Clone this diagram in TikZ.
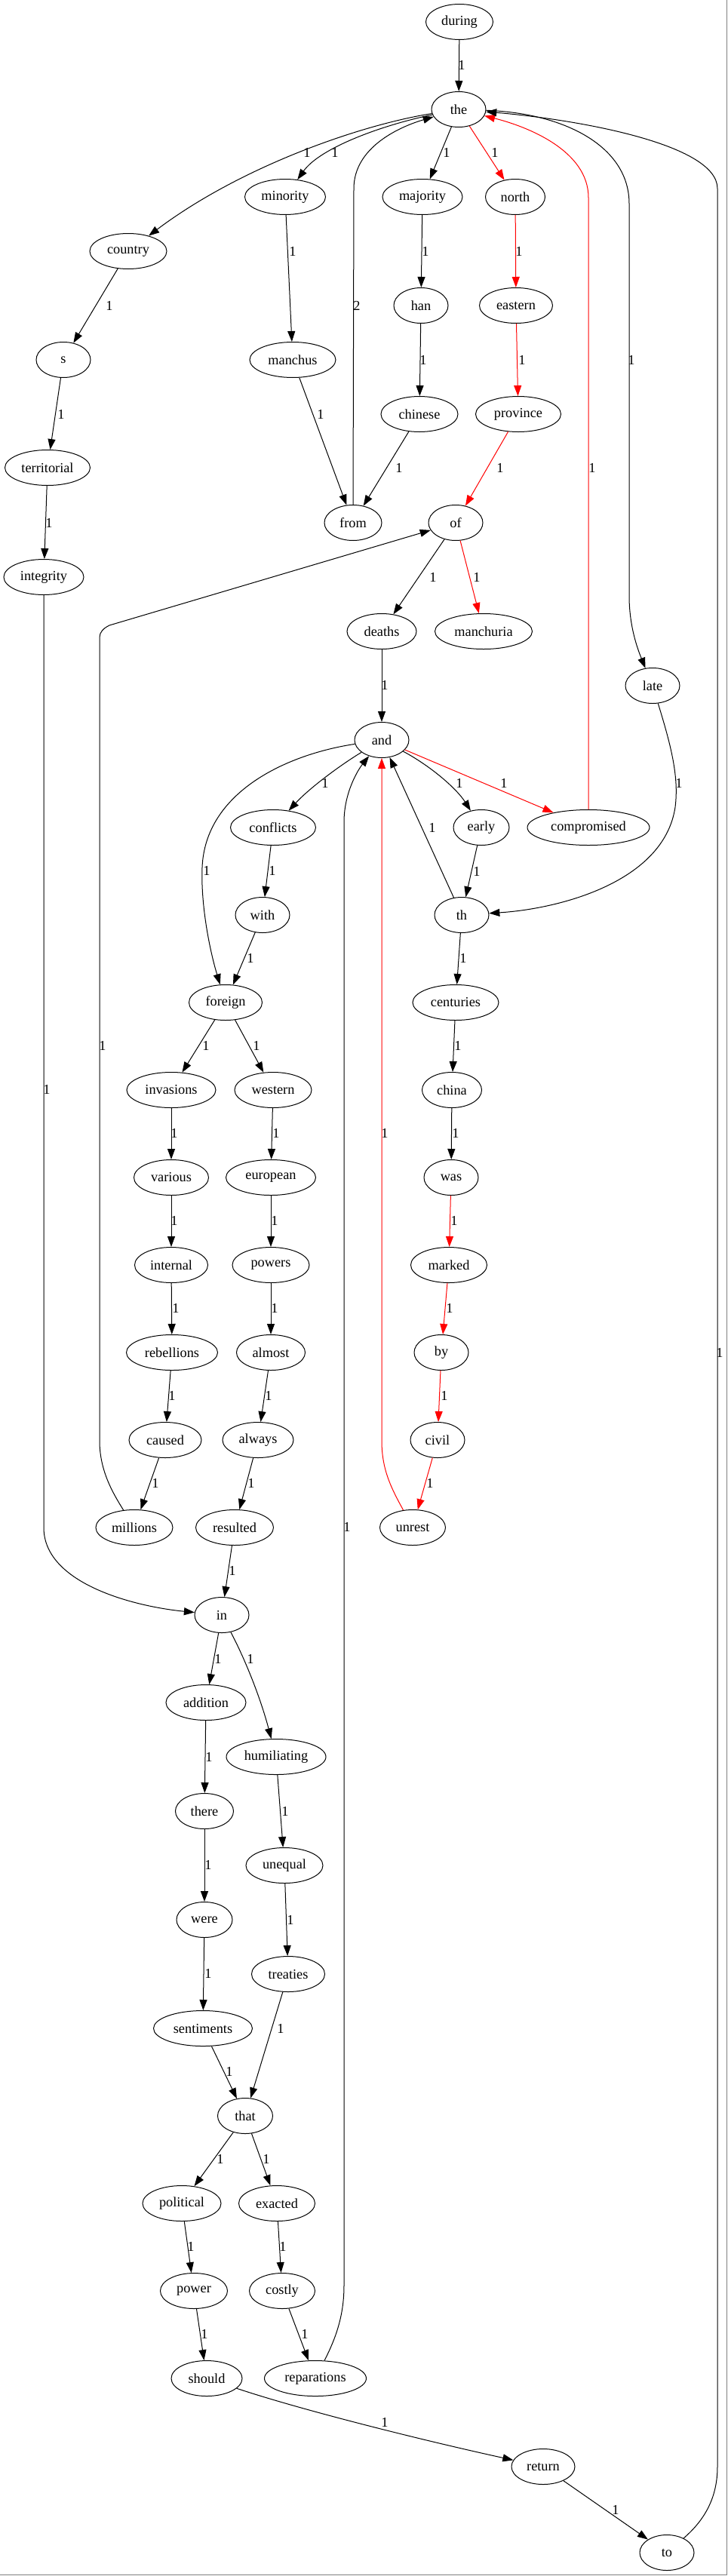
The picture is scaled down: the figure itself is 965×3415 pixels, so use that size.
\documentclass[tikz,border=0pt]{standalone}
\usepackage{fontspec}
\setmainfont{Liberation Serif}
\usetikzlibrary{shapes.geometric,arrows.meta}
\tikzset{
  wnode/.style={draw, ellipse, inner sep=0pt, minimum height=47pt, line width=1pt, font=\fontsize{18.3}{20}\selectfont},
  lbl/.style={inner sep=0pt, font=\fontsize{18.3}{20}\selectfont},
  edg/.style={draw, line width=1pt, -{Triangle[length=14pt,width=10pt]}},
  redg/.style={edg, color=red},
}
\begin{document}
\begin{tikzpicture}[x=1pt, y=-1pt]
\useasboundingbox (0,0) rectangle (965,3415);
\fill[white] (0,0) rectangle (965,3415);
\draw[color={rgb,255:red,128;green,128;blue,128}, line width=1.5pt] (963.5,0) -- (963.5,3413.5) -- (0,3413.5);

% nodes
\node[wnode, minimum width=89pt]  (wduring) at (609,29) {during};
\node[wnode, minimum width=72pt]  (wthe) at (608,145) {the};
\node[wnode, minimum width=107pt] (wminority) at (378,261) {minority};
\node[wnode, minimum width=106pt] (wmajority) at (560,261) {majority};
\node[wnode, minimum width=79pt]  (wnorth) at (683,261) {north};
\node[wnode, minimum width=102pt] (wcountry) at (170,333) {country};
\node[wnode, minimum width=72pt]  (whan) at (558,405) {han};
\node[wnode, minimum width=97pt]  (weastern) at (684,405) {eastern};
\node[wnode, minimum width=72pt]  (ws) at (84,477) {s};
\node[wnode, minimum width=114pt] (wmanchus) at (388,477) {manchus};
\node[wnode, minimum width=102pt] (wchinese) at (556,549) {chinese};
\node[wnode, minimum width=113pt] (wprovince) at (687,549) {province};
\node[wnode, minimum width=113pt] (wterritorial) at (63,620) {territorial};
\node[wnode, minimum width=76pt]  (wfrom) at (468,693) {from};
\node[wnode, minimum width=72pt]  (wof) at (604,693) {of};
\node[wnode, minimum width=106pt] (wintegrity) at (58,765) {integrity};
\node[wnode, minimum width=92pt]  (wdeaths) at (506,837) {deaths};
\node[wnode, minimum width=129pt] (wmanchuria) at (641,837) {manchuria};
\node[wnode, minimum width=72pt]  (wlate) at (865,909) {late};
\node[wnode, minimum width=72pt]  (wand) at (506,981) {and};
\node[wnode, minimum width=113pt] (wconflicts) at (362,1097) {conflicts};
\node[wnode, minimum width=74pt]  (wearly) at (638,1097) {early};
\node[wnode, minimum width=162pt] (wcompromised) at (780,1097) {compromised};
\node[wnode, minimum width=72pt]  (wwith) at (348,1213) {with};
\node[wnode, minimum width=72pt]  (wth) at (612,1213) {th};
\node[wnode, minimum width=97pt]  (wforeign) at (299,1329) {foreign};
\node[wnode, minimum width=114pt] (wcenturies) at (604,1329) {centuries};
\node[wnode, minimum width=118pt] (winvasions) at (227,1445) {invasions};
\node[wnode, minimum width=102pt] (wwestern) at (362,1445) {western};
\node[wnode, minimum width=79pt]  (wchina) at (599,1445) {china};
\node[wnode, minimum width=99pt]  (wvarious) at (227,1561) {various};
\node[wnode, minimum width=119pt] (weuropean) at (359,1561) {european};
\node[wnode, minimum width=72pt]  (wwas) at (598,1561) {was};
\node[wnode, minimum width=97pt]  (winternal) at (227,1677) {internal};
\node[wnode, minimum width=102pt] (wpowers) at (359,1677) {powers};
\node[wnode, minimum width=101pt] (wmarked) at (595,1677) {marked};
\node[wnode, minimum width=121pt] (wrebellions) at (228,1793) {rebellions};
\node[wnode, minimum width=91pt]  (walmost) at (359,1793) {almost};
\node[wnode, minimum width=72pt]  (wby) at (585,1793) {by};
\node[wnode, minimum width=96pt]  (wcaused) at (219,1909) {caused};
\node[wnode, minimum width=94pt]  (walways) at (342,1909) {always};
\node[wnode, minimum width=72pt]  (wcivil) at (580,1909) {civil};
\node[wnode, minimum width=102pt] (wmillions) at (178,2025) {millions};
\node[wnode, minimum width=103pt] (wresulted) at (311,2025) {resulted};
\node[wnode, minimum width=87pt]  (wunrest) at (547,2025) {unrest};
\node[wnode, minimum width=72pt]  (win) at (294,2141) {in};
\node[wnode, minimum width=106pt] (waddition) at (273,2257) {addition};
\node[wnode, minimum width=132pt] (whumiliating) at (366,2329) {humiliating};
\node[wnode, minimum width=77pt]  (wthere) at (271,2401) {there};
\node[wnode, minimum width=102pt] (wunequal) at (377,2473) {unequal};
\node[wnode, minimum width=74pt]  (wwere) at (271,2545) {were};
\node[wnode, minimum width=97pt]  (wtreaties) at (382,2617) {treaties};
\node[wnode, minimum width=131pt] (wsentiments) at (269,2689) {sentiments};
\node[wnode, minimum width=73pt]  (wthat) at (325,2805) {that};
\node[wnode, minimum width=104pt] (wpolitical) at (241,2921) {political};
\node[wnode, minimum width=101pt] (wexacted) at (367,2921) {exacted};
\node[wnode, minimum width=89pt]  (wpower) at (257,3037) {power};
\node[wnode, minimum width=87pt]  (wcostly) at (374,3037) {costly};
\node[wnode, minimum width=94pt]  (wshould) at (274,3153) {should};
\node[wnode, minimum width=135pt] (wreparations) at (418,3153) {reparations};
\node[wnode, minimum width=84pt]  (wreturn) at (720,3270) {return};
\node[wnode, minimum width=72pt]  (wto) at (884,3384) {to};

% edges
\draw[edg] (wduring) -- (wthe);
\draw[edg] (wthe) .. controls (480,165) and (320,220) .. (wcountry);
\draw[edg] (wthe) .. controls (510,165) and (425,195) .. (wminority);
\draw[edg] (wthe) -- (wmajority);
\draw[redg] (wthe) -- (wnorth);
\draw[edg] (wfrom.north) -- (469,250) .. controls (469,195) and (530,168) .. (wthe);
\draw[redg] (wcompromised.north) -- (780,262) .. controls (780,200) and (700,168) .. (wthe);
\draw[edg] (wthe) .. controls (750,150) and (834,195) .. (834,270) -- (834,790) .. controls (834,830) and (845,860) .. (wlate);
\draw[edg] (wto) .. controls (935,3340) and (951,3310) .. (951,3270) -- (951,250) .. controls (951,190) and (760,158) .. (wthe);
\draw[edg] (wminority) -- (wmanchus);
\draw[edg] (wmajority) -- (whan);
\draw[redg] (wnorth) -- (weastern);
\draw[edg] (wcountry) -- (ws);
\draw[edg] (whan) -- (wchinese);
\draw[redg] (weastern) -- (wprovince);
\draw[edg] (ws) -- (wterritorial);
\draw[edg] (wmanchus) -- (wfrom);
\draw[edg] (wchinese) -- (wfrom);
\draw[redg] (wprovince) -- (wof);
\draw[edg] (wterritorial) -- (wintegrity);
\draw[edg] (wmillions) .. controls (150,1980) and (132,1950) .. (132,1910) -- (132,845) .. controls (132,838) and (137,833) .. (145,829) -- (wof);
\draw[edg] (wof) -- (wdeaths);
\draw[redg] (wof) -- (wmanchuria);
\draw[edg] (wdeaths) -- (wand);
\draw[edg] (wintegrity) -- (58,2025) .. controls (58,2100) and (180,2130) .. (win);
\draw[edg] (wand) .. controls (450,1015) and (410,1045) .. (wconflicts);
\draw[edg] (wand) .. controls (380,1000) and (272,1050) .. (268,1150) .. controls (266,1200) and (278,1260) .. (wforeign);
\draw[edg] (wreparations) .. controls (445,3100) and (456,3070) .. (456,3030) -- (456,1090) .. controls (456,1050) and (475,1020) .. (wand);
\draw[redg] (wunrest) .. controls (520,1975) and (506,1950) .. (506,1910) -- (wand);
\draw[edg] (wth) -- (wand);
\draw[edg] (wand) .. controls (570,1015) and (605,1045) .. (wearly);
\draw[redg] (wand) -- (wcompromised);
\draw[edg] (wlate) .. controls (890,990) and (900,1030) .. (895,1070) .. controls (880,1170) and (740,1205) .. (wth);
\draw[edg] (wconflicts) -- (wwith);
\draw[edg] (wearly) -- (wth);
\draw[edg] (wwith) -- (wforeign);
\draw[edg] (wth) -- (wcenturies);
\draw[edg] (wforeign) -- (winvasions);
\draw[edg] (wforeign) -- (wwestern);
\draw[edg] (wcenturies) -- (wchina);
\draw[edg] (winvasions) -- (wvarious);
\draw[edg] (wwestern) -- (weuropean);
\draw[edg] (wchina) -- (wwas);
\draw[edg] (wvarious) -- (winternal);
\draw[edg] (weuropean) -- (wpowers);
\draw[redg] (wwas) -- (wmarked);
\draw[edg] (winternal) -- (wrebellions);
\draw[edg] (wpowers) -- (walmost);
\draw[redg] (wmarked) -- (wby);
\draw[edg] (wrebellions) -- (wcaused);
\draw[edg] (walmost) -- (walways);
\draw[redg] (wby) -- (wcivil);
\draw[edg] (wcaused) -- (wmillions);
\draw[edg] (walways) -- (wresulted);
\draw[redg] (wcivil) -- (wunrest);
\draw[edg] (wresulted) -- (win);
\draw[edg] (win) -- (waddition);
\draw[edg] (win) .. controls (325,2200) and (345,2250) .. (whumiliating);
\draw[edg] (waddition) -- (wthere);
\draw[edg] (whumiliating) -- (wunequal);
\draw[edg] (wthere) -- (wwere);
\draw[edg] (wunequal) -- (wtreaties);
\draw[edg] (wwere) -- (wsentiments);
\draw[edg] (wtreaties) -- (wthat);
\draw[edg] (wsentiments) -- (wthat);
\draw[edg] (wthat) -- (wpolitical);
\draw[edg] (wthat) -- (wexacted);
\draw[edg] (wpolitical) -- (wpower);
\draw[edg] (wexacted) -- (wcostly);
\draw[edg] (wpower) -- (wshould);
\draw[edg] (wcostly) -- (wreparations);
\draw[edg] (wshould) .. controls (400,3195) and (560,3235) .. (wreturn);
\draw[edg] (wreturn) -- (wto);

% labels
\node[lbl] (l01) at (612,86) {1};
\node[lbl] (l02) at (407,202) {1};
\node[lbl] (l03) at (444,202) {1};
\node[lbl] (l04) at (592,202) {1};
\node[lbl] (l05) at (656,202) {1};
\node[lbl] (l06) at (473,405) {2};
\node[lbl] (l07) at (785,620) {1};
\node[lbl] (l08) at (837,477) {1};
\node[lbl] (l09) at (954,1793) {1};
\node[lbl] (l10) at (388,333) {1};
\node[lbl] (l11) at (564,333) {1};
\node[lbl] (l12) at (688,333) {1};
\node[lbl] (l13) at (145,405) {1};
\node[lbl] (l14) at (561,477) {1};
\node[lbl] (l15) at (692,477) {1};
\node[lbl] (l16) at (81,549) {1};
\node[lbl] (l17) at (425,549) {1};
\node[lbl] (l18) at (529,620) {1};
\node[lbl] (l19) at (663,620) {1};
\node[lbl] (l20) at (65,693) {1};
\node[lbl] (l21) at (136,1386) {1};
\node[lbl] (l22) at (574,765) {1};
\node[lbl] (l23) at (632,765) {1};
\node[lbl] (l24) at (510,908) {1};
\node[lbl] (l25) at (62,1444) {1};
\node[lbl] (l26) at (431,1038) {1};
\node[lbl] (l27) at (274,1154) {1};
\node[lbl] (l28) at (460,2024) {1};
\node[lbl] (l29) at (510,1502) {1};
\node[lbl] (l30) at (573,1097) {1};
\node[lbl] (l31) at (609,1038) {1};
\node[lbl] (l32) at (668,1038) {1};
\node[lbl] (l33) at (900,1038) {1};
\node[lbl] (l34) at (361,1154) {1};
\node[lbl] (l35) at (632,1155) {1};
\node[lbl] (l36) at (332,1270) {1};
\node[lbl] (l37) at (614,1270) {1};
\node[lbl] (l38) at (273,1386) {1};
\node[lbl] (l39) at (340,1386) {1};
\node[lbl] (l40) at (607,1386) {1};
\node[lbl] (l41) at (231,1502) {1};
\node[lbl] (l42) at (366,1502) {1};
\node[lbl] (l43) at (604,1502) {1};
\node[lbl] (l44) at (231,1618) {1};
\node[lbl] (l45) at (364,1618) {1};
\node[lbl] (l46) at (602,1618) {1};
\node[lbl] (l47) at (233,1734) {1};
\node[lbl] (l48) at (364,1734) {1};
\node[lbl] (l49) at (596,1734) {1};
\node[lbl] (l50) at (228,1850) {1};
\node[lbl] (l51) at (356,1850) {1};
\node[lbl] (l52) at (589,1850) {1};
\node[lbl] (l53) at (206,1966) {1};
\node[lbl] (l54) at (333,1966) {1};
\node[lbl] (l55) at (570,1966) {1};
\node[lbl] (l56) at (308,2082) {1};
\node[lbl] (l57) at (289,2199) {1};
\node[lbl] (l58) at (332,2199) {1};
\node[lbl] (l59) at (277,2329) {1};
\node[lbl] (l60) at (378,2401) {1};
\node[lbl] (l61) at (276,2472) {1};
\node[lbl] (l62) at (385,2545) {1};
\node[lbl] (l63) at (276,2616) {1};
\node[lbl] (l64) at (372,2689) {1};
\node[lbl] (l65) at (304,2746) {1};
\node[lbl] (l66) at (292,2862) {1};
\node[lbl] (l67) at (353,2862) {1};
\node[lbl] (l68) at (253,2978) {1};
\node[lbl] (l69) at (375,2978) {1};
\node[lbl] (l70) at (271,3094) {1};
\node[lbl] (l71) at (404,3094) {1};
\node[lbl] (l72) at (510,3211) {1};
\node[lbl] (l73) at (816,3327) {1};
\end{tikzpicture}
\end{document}
